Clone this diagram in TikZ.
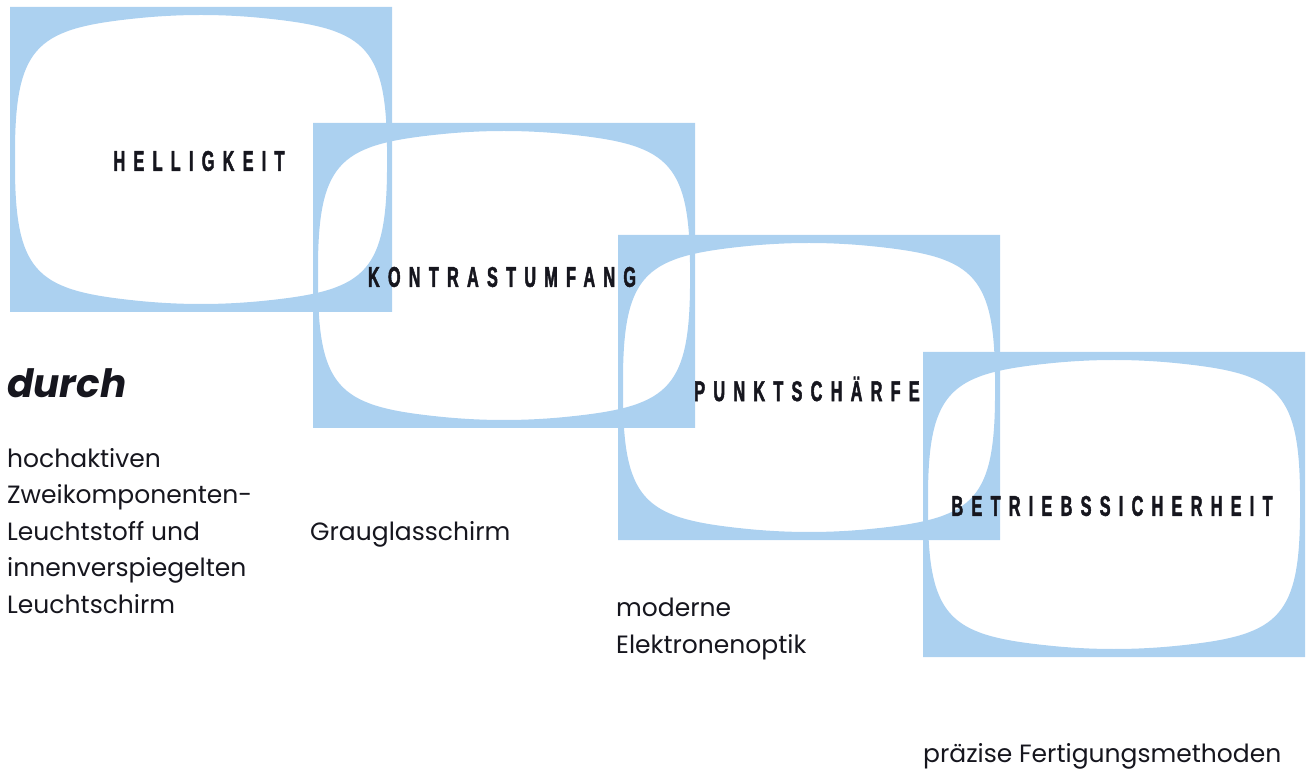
\documentclass[tikz,border=0pt]{standalone}
\usepackage{fontspec}
\setmainfont{Poppins}
\newfontfamily\scapfont{Liberation Sans}[FakeStretch=0.57,FakeBold=1.6,LetterSpace=29]
\usetikzlibrary{positioning}
\definecolor{tvblue}{RGB}{172,209,240}
\definecolor{ink}{RGB}{22,22,30}
\tikzset{
  scap/.style={font=\scapfont\bfseries\fontsize{28.5}{28.5}\selectfont, text=ink, inner sep=0pt},
  btxt/.style={font=\fontsize{25}{36.5}\selectfont, text=ink, align=left,
               inner sep=0pt, anchor=base west},
  tvscreen/.pic={
    \fill[tvblue, even odd rule] (0,0) rectangle (382,305)
      (5,140) .. controls (6,36) and (30,21) .. (130,11)
      .. controls (171,7) and (211,7) .. (252,11)
      .. controls (352,21) and (376,36) .. (377,140)
      -- (377,165)
      .. controls (376,269) and (352,284) .. (252,294)
      .. controls (211,298) and (171,298) .. (130,294)
      .. controls (30,284) and (6,269) .. (5,165) -- cycle;
  },
}

\begin{document}
\begin{tikzpicture}[x=1pt,y=-1pt]
  \useasboundingbox (0,0) rectangle (1310,775);
  % --- the four screens, stepping down to the right
  \foreach \x/\y in {10/7, 313/123, 618/235, 923/352}
    \pic at (\x,\y) {tvscreen};
  \foreach \i/\x/\y/\t in {1/10/7/HELLIGKEIT, 2/313/123/KONTRASTUMFANG,
                           3/618/235/PUNKTSCHÄRFE, 4/923/352/BETRIEBSSICHERHEIT}
    \node[scap] (lbl\i) at (\x+189,\y+154) {\t};
  % --- the texts below (base = last line)
  \node[font=\bfseries\itshape\fontsize{39}{39}\selectfont, text=ink,
        anchor=base west, inner sep=0pt] (durch) at (7,398) {durch};
  \node[btxt] (leucht) at (7,613) {hochaktiven\\Zweikomponenten-\\Leuchtstoff und\\innenverspiegelten\\Leuchtschirm};
  \node[btxt] (grau) at (310,540) {Grauglasschirm};
  \node[btxt] (optik) at (616,653) {moderne\\Elektronenoptik};
  \node[btxt] (fert) at (923,762) {präzise Fertigungsmethoden};
\end{tikzpicture}
\end{document}
